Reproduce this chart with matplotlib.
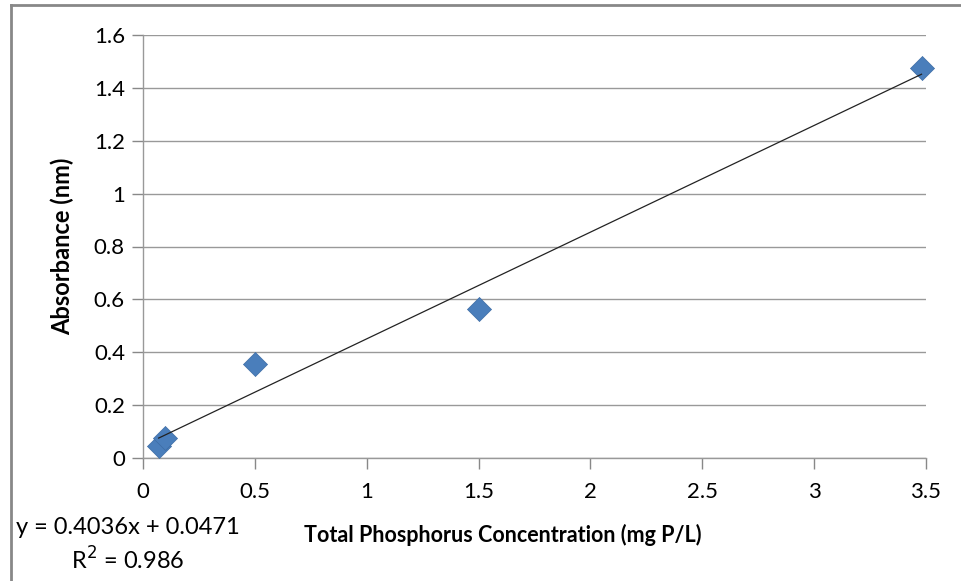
import numpy as np
from matplotlib import pyplot as plt
from matplotlib.lines import Line2D

plt.rcParams['font.family'] = ['Lato', 'DejaVu Sans']

# Calibration data
conc = [0.07, 0.1, 0.5, 1.5, 3.48]          # mg P/L
absorb = [0.045, 0.075, 0.355, 0.565, 1.475]
slope, intercept = 0.4036, 0.0471
x_ticks = [0, 0.5, 1, 1.5, 2, 2.5, 3, 3.5]
x_labels = ['0', '0.5', '1', '1.5', '2', '2.5', '3', '3.5']
y_ticks = [0, 0.2, 0.4, 0.6, 0.8, 1, 1.2, 1.4, 1.6]
y_labels = ['0', '0.2', '0.4', '0.6', '0.8', '1', '1.2', '1.4', '1.6']

fig = plt.figure(figsize=(9.61, 5.81), dpi=100)
ax = fig.add_axes([143 / 961, 1 - 458 / 581, 783 / 961, 423 / 581])

ax.scatter(conc, absorb, marker='D', s=150, c='#4a7ebb', edgecolors='#3d6ca5',
           linewidths=0.5, zorder=3, clip_on=False)
fit_x = np.array([min(conc), max(conc)])
ax.plot(fit_x, slope * fit_x + intercept, color='#222222', linewidth=0.9, zorder=4)

ax.set_xlim(0, 3.5)
ax.set_ylim(0, 1.6)
ax.set_xticks(x_ticks)
ax.set_xticklabels(x_labels)
ax.set_yticks(y_ticks)
ax.set_yticklabels(y_labels)
ax.tick_params(axis='both', labelsize=16, color='#888888', length=8, width=1, pad=5)
ax.tick_params(axis='x', pad=9)
ax.grid(True, axis='y', color='#999999', linewidth=1)
ax.set_axisbelow(True)
for side in ['top', 'right']:
    ax.spines[side].set_visible(False)
for side in ['left', 'bottom']:
    ax.spines[side].set_color('#999999')
    ax.spines[side].set_linewidth(1)

ax.set_xlabel('Total Phosphorus Concentration (mg P/L)', fontsize=15.5,
              fontweight='bold', labelpad=14)
ax.xaxis.set_label_coords(0.46, -0.155)
ax.set_ylabel('Absorbance (nm)', fontsize=17, fontweight='bold', labelpad=14)

fig.text(16 / 961, 1 - 528 / 581, 'y = 0.4036x + 0.0471', fontsize=17,
         ha='left', va='center')
fig.text(128 / 961, 1 - 560 / 581, 'R$^2$ = 0.986', fontsize=17,
         ha='center', va='center')

# chart area border (left and top visible)
fig.add_artist(Line2D([10.5 / 961, 10.5 / 961], [0, 1 - 5 / 581],
                      transform=fig.transFigure, color='#888888', linewidth=2))
fig.add_artist(Line2D([10.5 / 961, 1], [1 - 5 / 581, 1 - 5 / 581],
                      transform=fig.transFigure, color='#888888', linewidth=2))

fig.savefig('out.png', dpi=100)
